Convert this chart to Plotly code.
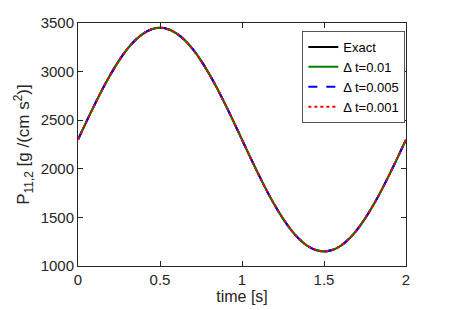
import plotly.graph_objects as go

time_s = [0.00, 0.05, 0.10, 0.15, 0.20, 0.25, 0.30, 0.35, 0.40, 0.45, 0.50,
          0.55, 0.60, 0.65, 0.70, 0.75, 0.80, 0.85, 0.90, 0.95, 1.00,
          1.05, 1.10, 1.15, 1.20, 1.25, 1.30, 1.35, 1.40, 1.45, 1.50,
          1.55, 1.60, 1.65, 1.70, 1.75, 1.80, 1.85, 1.90, 1.95, 2.00]

p_exact = [2300, 2480, 2655, 2822, 2976, 3113, 3230, 3325, 3394, 3436, 3450,
           3436, 3394, 3325, 3230, 3113, 2976, 2822, 2655, 2480, 2300,
           2120, 1945, 1778, 1624, 1487, 1370, 1275, 1206, 1164, 1150,
           1164, 1206, 1275, 1370, 1487, 1624, 1778, 1945, 2120, 2300]
p_dt01 = list(p_exact)
p_dt005 = list(p_exact)
p_dt001 = list(p_exact)

series_names = ["Exact", "Δ t=0.01", "Δ t=0.005", "Δ t=0.001"]
series_vals = [p_exact, p_dt01, p_dt005, p_dt001]
colors = ["#000000", "#008000", "#0000ff", "#ff0000"]
dashes = ["solid", "solid", "dash", "dot"]

fig = go.Figure()
for name, vals, c, d in zip(series_names, series_vals, colors, dashes):
    fig.add_trace(go.Scatter(x=time_s, y=vals, mode="lines", name=name,
                             line=dict(color=c, dash=d, width=2, shape="spline")))

axis_common = dict(showline=True, linecolor="#262626", linewidth=1, mirror="ticks",
                   ticks="inside", ticklen=5, tickcolor="#262626", showgrid=False,
                   zeroline=False, automargin=False,
                   tickfont=dict(size=15, color="#262626"))

fig.update_layout(
    width=441, height=302,
    margin=dict(l=70, r=43, t=15, b=44, autoexpand=False),
    paper_bgcolor="white", plot_bgcolor="white",
    font=dict(family="Liberation Sans, Arial, sans-serif", color="#262626"),
    xaxis=dict(range=[0, 2], tickvals=[0, 0.5, 1, 1.5, 2], ticktext=["0", "0.5", "1", "1.5", "2"],
               title=dict(text="time [s]", font=dict(size=16), standoff=2), **axis_common),
    yaxis=dict(range=[1000, 3500], tickvals=[1000, 1500, 2000, 2500, 3000, 3500],
               title=dict(text="P<sub>11,2</sub> [g /(cm s<sup>2</sup>)]", font=dict(size=17), standoff=6),
               **axis_common),
    legend=dict(x=0.998, y=0.967, xanchor="right", yanchor="top", bgcolor="white",
                bordercolor="#555555", borderwidth=1, font=dict(size=13, color="#000000"),
                itemwidth=30, tracegroupgap=0),
    showlegend=True,
)

fig.write_html("out.html")
